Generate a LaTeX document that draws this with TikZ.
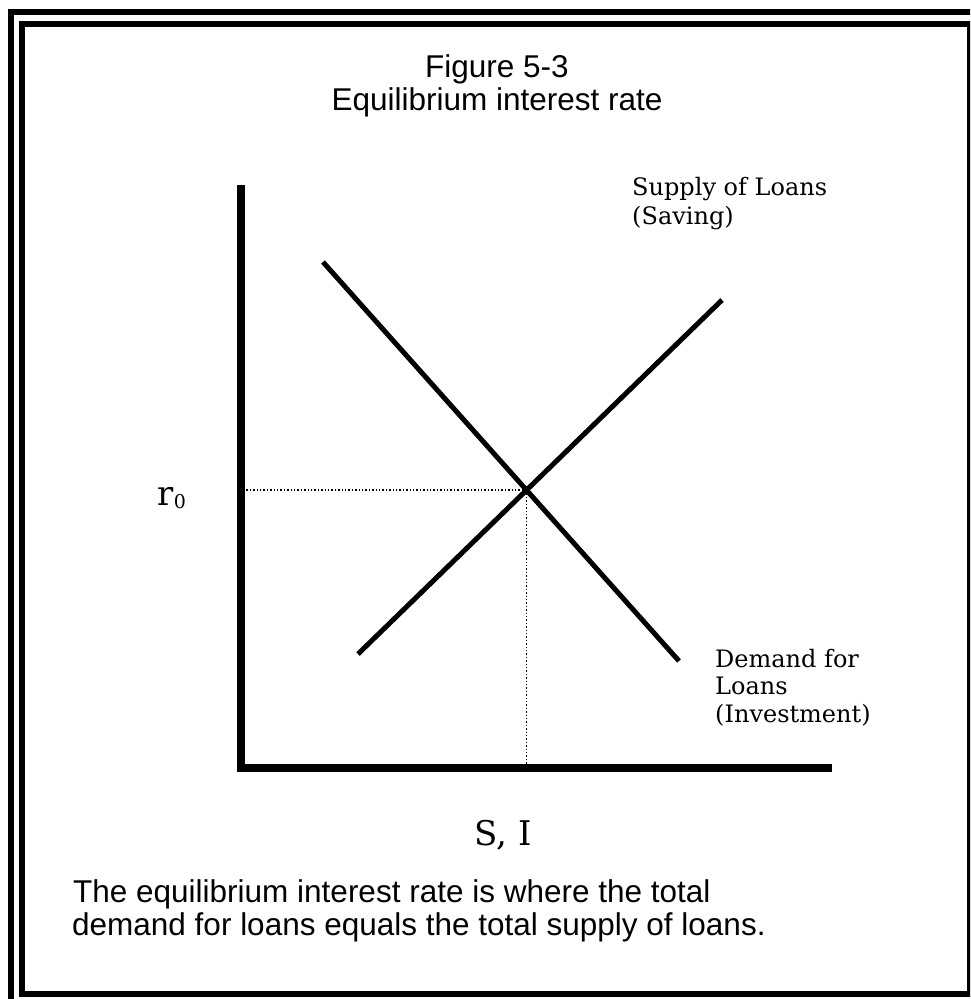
\documentclass[tikz,border=0pt]{standalone}
\usepackage{fontspec}
\usetikzlibrary{intersections}
\newfontfamily\sansf{Liberation Sans}
\newfontfamily\seriff{DejaVu Serif}
\tikzset{
  frameline/.style={line width=6pt},
  axisline/.style={line width=8pt, line join=miter},
  curveline/.style={line width=5pt},
  guideline/.style={line width=1.4pt, dash pattern=on 1.4pt off 2pt},
  titletext/.style={font=\sansf\fontsize{31.5}{36}\selectfont, inner sep=0pt},
  labeltext/.style={font=\seriff\fontsize{24}{29}\selectfont, inner sep=0pt, anchor=base west},
}
\begin{document}
\begin{tikzpicture}[x=1pt,y=-1pt]
\useasboundingbox (0,0) rectangle (970,999);
\clip (0,0) rectangle (970,999);
% frames
\draw[frameline] (11,12) rectangle (1010,1040);
\draw[frameline] (22,24) rectangle (970,994);
% title
\node[titletext, anchor=base] (t1) at (497,77) {Figure 5-3};
\node[titletext, anchor=base] (t2) at (497,110) {Equilibrium interest rate};
% axes
\coordinate (ytop) at (241,185);
\coordinate (origin) at (241,768);
\coordinate (xend) at (832,768);
\draw[axisline] (ytop) -- (origin) -- (xend);
% curves
\coordinate (d1) at (323,262);
\coordinate (d2) at (679,661);
\coordinate (s1) at (358,654);
\coordinate (s2) at (722,300);
\draw[curveline, name path=demand] (d1) -- (d2);
\draw[curveline, name path=supply] (s1) -- (s2);
\path[name intersections={of=demand and supply, by=eq}];
\coordinate (yfoot) at (245,0);
\coordinate (xfoot) at (0,764);
\draw[guideline] (eq) -- (yfoot |- eq);
\draw[guideline] (eq) -- (eq |- xfoot);
% labels
\node[labeltext] (sup1) at (632,195) {Supply of Loans};
\node[labeltext] (sup2) at (632,224) {(Saving)};
\node[labeltext] (dem1) at (715,667) {Demand for};
\node[labeltext] (dem2) at (715,694) {Loans};
\node[labeltext] (dem3) at (715,722) {(Investment)};
\node[font=\seriff\fontsize{34}{34}\selectfont, inner sep=0pt, anchor=base west] (r0) at (157,505) {r\kern0.5pt\raisebox{-3pt}{\fontsize{19}{19}\selectfont 0}};
\node[font=\seriff\fontsize{34}{34}\selectfont, inner sep=0pt, anchor=base] (si) at (503,845) {S, I};
% caption
\node[titletext, anchor=base west] (c1) at (73,902) {The equilibrium interest rate is where the total};
\node[titletext, anchor=base west] (c2) at (72,935) {demand for loans equals the total supply of loans.};
\end{tikzpicture}
\end{document}
